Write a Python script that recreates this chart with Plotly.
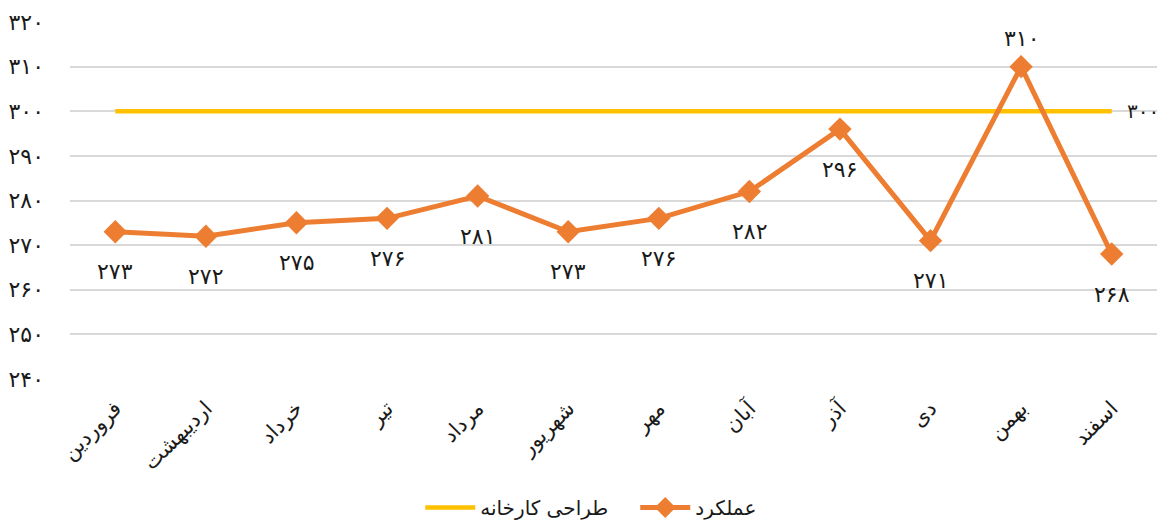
import plotly.graph_objects as go

months = ["فروردین", "اردیبهشت", "خرداد", "تیر", "مرداد", "شهریور",
          "مهر", "آبان", "آذر", "دی", "بهمن", "اسفند"]
performance = [273, 272, 275, 276, 281, 273, 276, 282, 296, 271, 310, 268]
design = [300] * 12
y_ticks = [240, 250, 260, 270, 280, 290, 300, 310, 320]

def fa(n):
    return str(n).translate(str.maketrans("0123456789", "۰۱۲۳۴۵۶۷۸۹"))

FONT = "DejaVu Sans, sans-serif"
ORANGE = "#ED7D31"
YELLOW = "#FFC000"

fig = go.Figure()
fig.add_trace(go.Scatter(
    x=months, y=design, mode="lines", name="طراحی کارخانه",
    line=dict(color=YELLOW, width=4.5), hoverinfo="skip"))
fig.add_trace(go.Scatter(
    x=months, y=performance, mode="lines+markers", name="عملکرد",
    line=dict(color=ORANGE, width=5),
    marker=dict(symbol="diamond", size=18, color=ORANGE)))

for m, v in zip(months, performance):
    above = v == max(performance)
    fig.add_annotation(x=m, y=v, text=fa(v), showarrow=False,
                       yshift=28 if above else -40,
                       font=dict(size=22, color="#1a1a1a", family=FONT))
fig.add_annotation(x=months[-1], y=design[-1], text=fa(design[-1]),
                   showarrow=False, xanchor="left", xshift=13,
                   font=dict(size=20, color="#1a1a1a", family=FONT))

fig.update_layout(
    width=1162, height=518,
    margin=dict(l=62, r=13, t=14, b=147, autoexpand=False),
    paper_bgcolor="white", plot_bgcolor="white",
    font=dict(family=FONT, size=18, color="#1a1a1a"),
    showlegend=True,
    legend=dict(orientation="h", x=0.52, xanchor="center", y=-0.36, yanchor="middle",
                font=dict(size=20), traceorder="normal", itemwidth=50,
                entrywidth=150),
    xaxis=dict(tickangle=-45, showgrid=False, zeroline=False, showline=False,
               ticks="", tickfont=dict(size=21), range=[-0.5, 11.5],
               automargin=False, ticklabelstandoff=12),
    yaxis=dict(range=[240, 320], tickvals=y_ticks, ticktext=[fa(t) for t in y_ticks],
               showgrid=True, gridcolor="#D9D9D9", gridwidth=1.5, zeroline=False,
               ticks="", tickfont=dict(size=22), ticklabelstandoff=25, automargin=False),
)

fig.write_html("out.html")
